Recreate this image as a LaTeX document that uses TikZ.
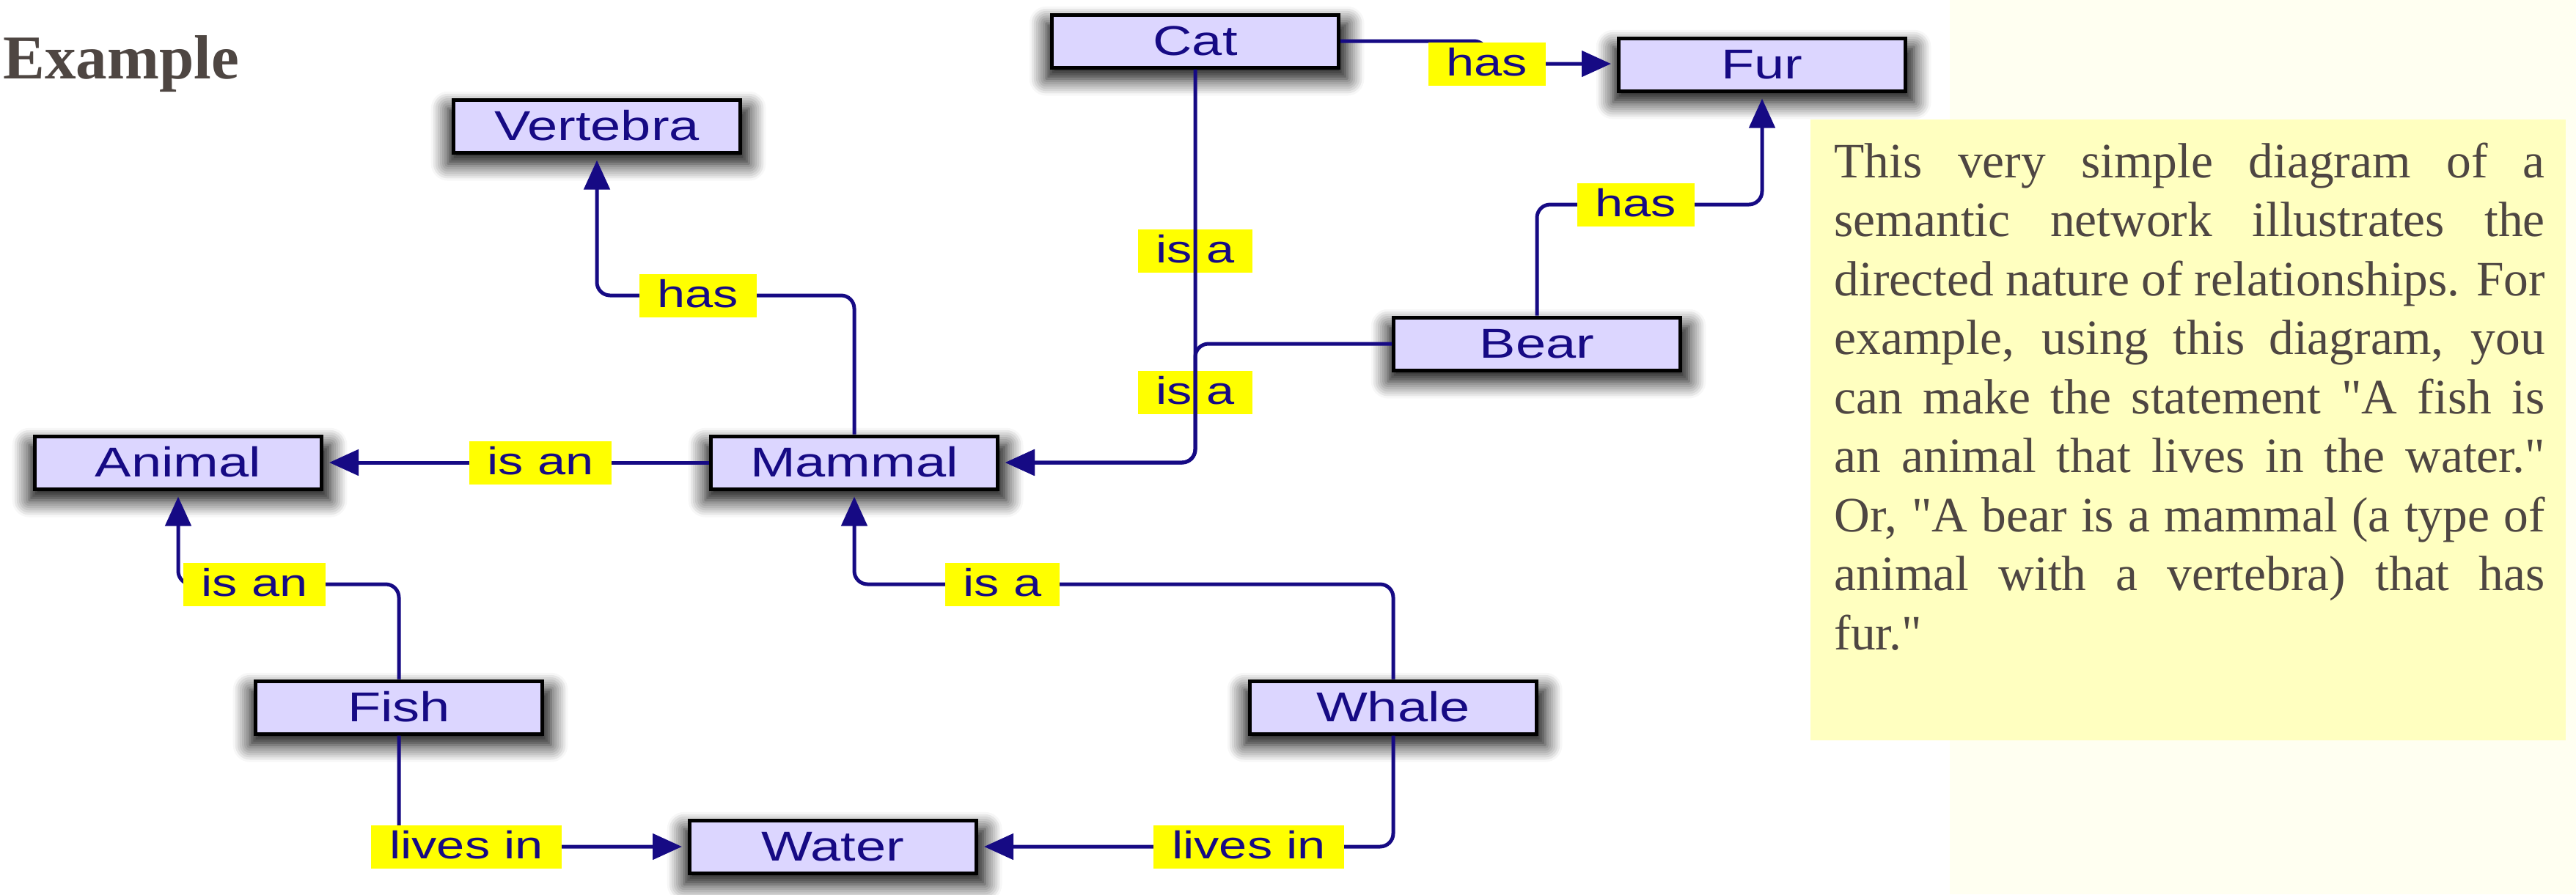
\documentclass[tikz,border=0pt]{standalone}
\usepackage{fontspec}
\setmainfont{Liberation Serif}[Ligatures=TeXOff]
\newfontfamily\diagfont[FakeStretch=1.3]{Liberation Sans}
\usetikzlibrary{arrows.meta,shadows.blur}
\definecolor{conceptfill}{RGB}{220,214,255}
\definecolor{navy}{RGB}{22,10,132}
\definecolor{tagfill}{RGB}{255,255,0}
\definecolor{notefill}{RGB}{255,255,192}
\definecolor{pagefill}{RGB}{255,255,241}
\definecolor{inkgray}{RGB}{78,70,66}
\pgfdeclarelayer{front}
\pgfsetlayers{main,front}
\tikzset{
  concept/.style={draw=black, line width=0.05cm, fill=conceptfill, minimum width=3.91cm, minimum height=0.72cm,
    inner sep=0pt, text height=0.42cm, text depth=0.04cm, text=navy, font=\diagfont\fontsize{16.2}{18}\selectfont,
    blur shadow={shadow xshift=0.02cm, shadow yshift=-0.13cm, shadow scale=1.05, shadow blur radius=0.22cm,
      shadow blur steps=8, shadow opacity=100}},
  tag/.style={fill=tagfill, text=navy, inner xsep=0.25cm, inner ysep=0pt, minimum height=0.59cm,
    text height=0.36cm, text depth=0.04cm, font=\diagfont\fontsize{15}{17}\selectfont},
  link/.style={draw=navy, line width=0.05cm, rounded corners=0.18cm},
  headed/.style={-{Triangle[length=0.4cm,width=0.35cm]}, shorten >=0.08cm},
}

\begin{document}
\begin{tikzpicture}
    \useasboundingbox (0,0) rectangle (35.13,-12.2);

    % note
    \fill[pagefill] (26.59,0) rectangle (35.13,-12.2);
    \fill[notefill] (24.69,-1.63) rectangle (34.99,-10.10);
    \node[anchor=base west, inner sep=0pt, text=inkgray, font=\bfseries\fontsize{24.2}{28}\selectfont] (title) at (0.04,-1.07) {Example};
    \node[anchor=north west, inner sep=0pt, text width=9.69cm, align=justify, text=inkgray,
          font=\fontsize{19.2}{22.9}\selectfont] (para) at (25.01,-1.94)
         {\hyphenpenalty=10000 This very simple diagram of a\linebreak semantic network illustrates the\linebreak
          directed nature of relationships. For\linebreak example, using this diagram, you\linebreak
          can make the statement "A fish is\linebreak an animal that lives in the water."\linebreak
          Or, "A bear is a mammal (a type of\linebreak animal with a vertebra) that has\linebreak fur."};

    % concepts
    \node[concept] (vertebra) at (8.14,-1.72) {Vertebra};
    \node[concept] (cat) at (16.30,-0.56) {Cat};
    \node[concept] (fur) at (24.03,-0.88) {Fur};
    \node[concept] (bear) at (20.96,-4.69) {Bear};
    \node[concept] (animal) at (2.43,-6.31) {Animal};
    \node[concept] (mammal) at (11.65,-6.31) {Mammal};
    \node[concept] (fish) at (5.44,-9.65) {Fish};
    \node[concept] (whale) at (19.00,-9.65) {Whale};
    \node[concept] (water) at (11.36,-11.55) {Water};

    % relations
    \begin{pgfonlayer}{front}
        \node[tag] (hasvert) at (9.52,-4.03) {has};
        \node[tag] (isanmam) at (7.37,-6.31) {is an};
        \node[tag] (hascat) at (20.28,-0.87) {has};
        \node[tag] (hasbear) at (22.31,-2.79) {has};
        \node[tag] (isacat) at (16.30,-3.42) {is a};
        \node[tag] (isabear) at (16.30,-5.35) {is a};
        \node[tag] (isanfish) at (3.47,-7.97) {is an};
        \node[tag] (isawhale) at (13.67,-7.97) {is a};
        \node[tag] (livesfish) at (6.36,-11.55) {lives in};
        \node[tag] (liveswhale) at (17.03,-11.55) {lives in};
    \end{pgfonlayer}

    \draw[link, headed] (mammal.north) |- (hasvert.center) -| (vertebra.south);
    \draw[link, headed] (mammal.west) -- (isanmam.center) -- (animal.east);
    \draw[link, headed] (cat.east) -| (hascat.center) -- (hascat.center -| fur.west);
    \draw[link, headed] (bear.north) |- (hasbear.center) -| (fur.south);
    \draw[link, headed] (fish.north) |- (isanfish.center) -| (animal.south);
    \draw[link, headed] (whale.north) |- (isawhale.center) -| (mammal.south);
    \draw[link, headed] (fish.south) |- (livesfish.center) -- (water.west);
    \draw[link, headed] (whale.south) |- (liveswhale.center) -- (water.east);

    % these two run over their tags
    \begin{pgfonlayer}{front}
        \draw[link, headed] (cat.south) -- (isacat.center) |- (mammal.east);
        \draw[link, headed] (bear.west) -| (isabear.center) |- (mammal.east);
    \end{pgfonlayer}
\end{tikzpicture}
\end{document}
